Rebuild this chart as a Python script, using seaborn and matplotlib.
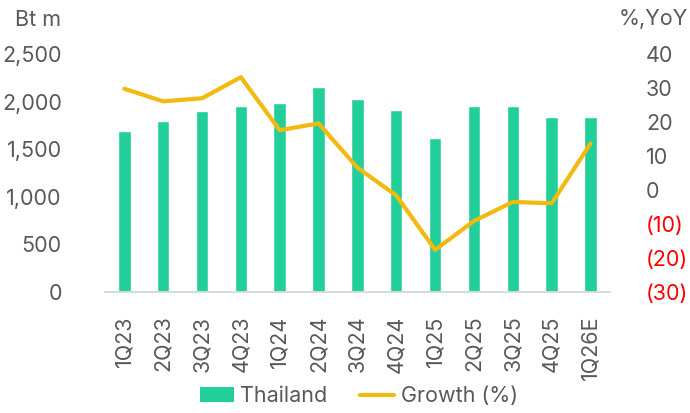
import numpy as np
import pandas as pd
import seaborn as sns
import matplotlib.pyplot as plt
from matplotlib.patches import Patch
from matplotlib.lines import Line2D

# Dados do gráfico
quarters = ['1Q23', '2Q23', '3Q23', '4Q23', '1Q24', '2Q24', '3Q24', '4Q24',
            '1Q25', '2Q25', '3Q25', '4Q25', '1Q26E']
thailand = [1690, 1800, 1905, 1955, 1983, 2150, 2028, 1916, 1623, 1951, 1955, 1840, 1843]
growth = [29.8, 26.1, 27.0, 33.2, 17.6, 19.6, 6.6, -1.6, -17.6, -9.1, -3.5, -3.9, 13.7]
left_ticks = [0, 500, 1000, 1500, 2000, 2500]
right_ticks = [-30, -20, -10, 0, 10, 20, 30, 40]

green = '#22CE99'
gold = '#F2B90F'
grey = '#595959'

sns.set_theme(style="white")
plt.rcParams['font.family'] = ['Inter', 'DejaVu Sans']

df = pd.DataFrame({'quarter': quarters, 'thailand': thailand,
                   'growth': growth, 'pos': np.arange(len(quarters))})

fig = plt.figure(figsize=(6.9, 4.13), dpi=100)
ax = fig.add_axes([0.152, 0.293, 0.732, 0.576])

sns.barplot(data=df, x='quarter', y='thailand', color=green, width=0.32,
            saturation=1, ax=ax)
ax.set_xlim(-0.5, len(quarters) - 0.5)
ax.set_ylim(0, 2500)
ax.set_yticks(left_ticks)
ax.set_yticklabels([f'{v:,}' for v in left_ticks])
ax.set_xlabel('')
ax.set_ylabel('')
ax.tick_params(axis='y', length=0, pad=31, labelsize=15.5, labelcolor=grey)
ax.tick_params(axis='x', length=0, pad=17, labelsize=15.5, labelcolor=grey, rotation=90)

ax2 = ax.twinx()
sns.lineplot(data=df, x='pos', y='growth', color=gold, linewidth=3, ax=ax2)
ax2.set_ylim(-30, 40)
ax2.set_yticks(right_ticks)
ax2.set_yticklabels([f'({-v})' if v < 0 else str(v) for v in right_ticks])
ax2.set_ylabel('')
ax2.set_xlabel('')
ax2.tick_params(axis='y', length=0, pad=26, labelsize=15.5)
for lab, v in zip(ax2.get_yticklabels(), right_ticks):
    lab.set_color('#FF0000' if v < 0 else grey)

for a in (ax, ax2):
    for s in ['top', 'left', 'right']:
        a.spines[s].set_visible(False)
    a.spines['bottom'].set_color('#D9D9D9')
    a.spines['bottom'].set_linewidth(1.2)

fig.text(0.022, 0.952, 'Bt m', fontsize=15.5, color=grey, va='center')
fig.text(0.997, 0.955, '%,YoY', fontsize=15.5, color=grey, va='center', ha='right')

handles = [Patch(facecolor=green, edgecolor='none'),
           Line2D([0], [0], color=gold, linewidth=3)]
fig.legend(handles, ['Thailand', 'Growth (%)'], loc='center', bbox_to_anchor=(0.52, 0.04),
           ncol=2, frameon=False, fontsize=15.5, labelcolor=grey,
           handlelength=1.6, handletextpad=0.3, columnspacing=1.5)

plt.savefig('out.png', dpi=100)
